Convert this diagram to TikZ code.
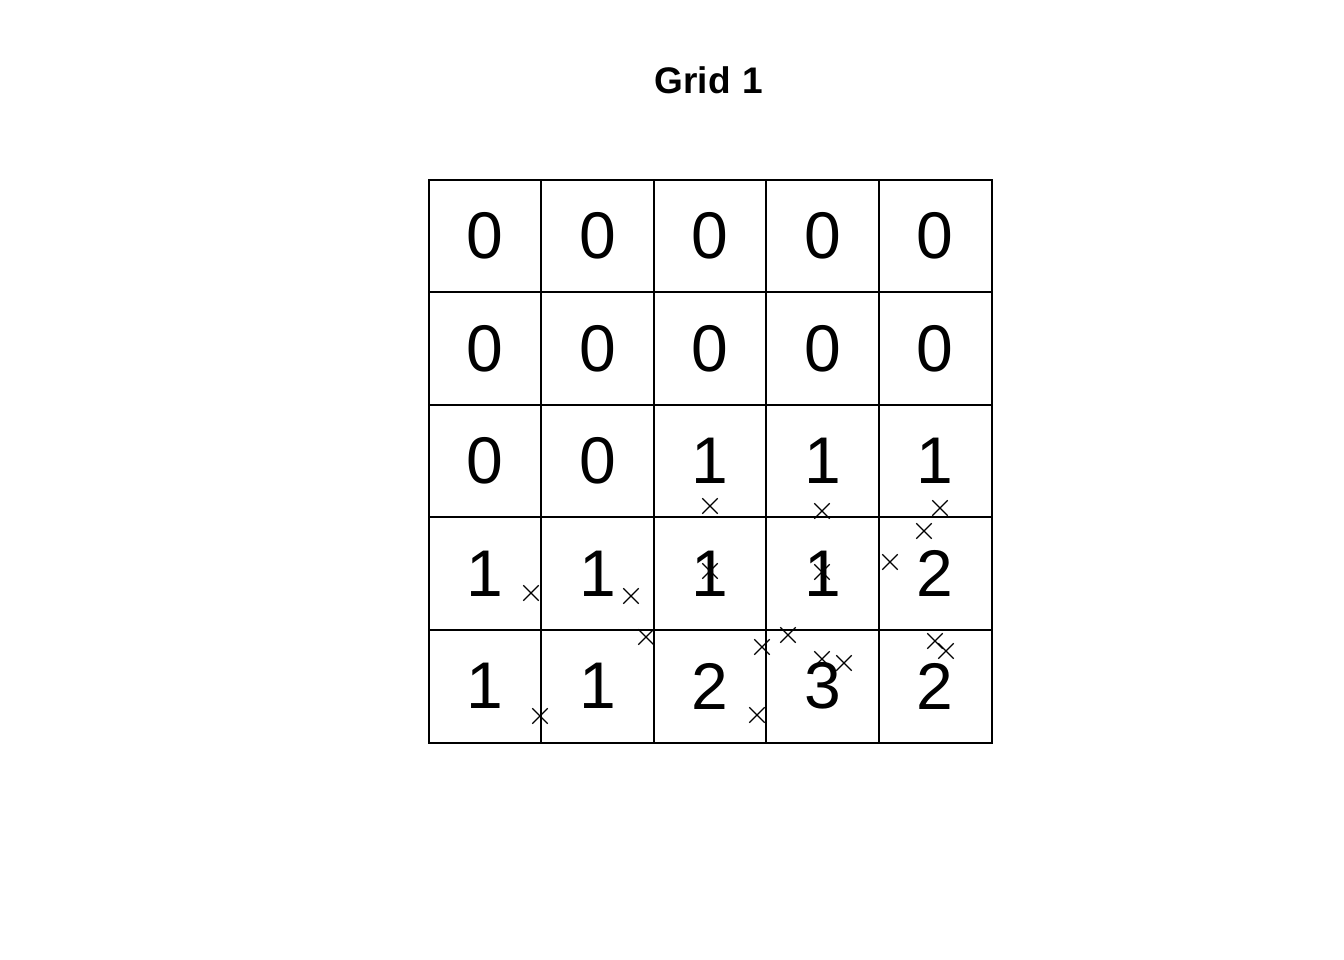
\documentclass[tikz,border=0pt]{standalone}
\usepackage{fontspec}
\setmainfont{Liberation Sans}
\usetikzlibrary{shapes.misc}
\begin{document}
\begin{tikzpicture}[x=1pt,y=-1pt,
  cell/.style={minimum size=112.5pt, inner sep=0pt, font=\fontsize{66}{66}\selectfont},
  gridline/.style={draw=black, line width=1.8pt},
  xmark/.style={cross out, draw=black, line width=1.3pt, minimum size=14pt, inner sep=0pt}]
\useasboundingbox[fill=white] (0,0) rectangle (1344,960);
\node[font=\bfseries\fontsize{37}{37}\selectfont] (title) at (709,80) {Grid\hspace{12pt}1};
\def\vals{{{0,0,0,0,0},{0,0,0,0,0},{0,0,1,1,1},{1,1,1,1,2},{1,1,2,3,2}}}
\foreach \r in {0,...,4}{
  \foreach \c in {0,...,4}{
    \pgfmathsetmacro{\v}{int(\vals[\r][\c])}
    \node[cell] (c\r\c) at ({429+112.5*\c+56.25},{180+112.5*\r+56.25}) {\v};
  }
}
\foreach \k in {1,...,4}{
  \draw[gridline] (c0\k.north west) -- (c4\k.south west);
  \draw[gridline] (c\k0.north west) -- (c\k4.north east);
}
\draw[gridline, line width=2.2pt] (c00.north west) rectangle (c44.south east);
\foreach \i/\x/\y in {1/710/506,2/822/511,3/940/508,4/924/531,5/890/562,6/710/571,7/822/572,8/531/593,9/631/596,10/646/637,11/762/647,12/788/635,13/822/659,14/844/663,15/935/641,16/946/651,17/540/716,18/757/715}{
  \node[xmark] (x\i) at (\x,\y) {};
}
\end{tikzpicture}
\end{document}
